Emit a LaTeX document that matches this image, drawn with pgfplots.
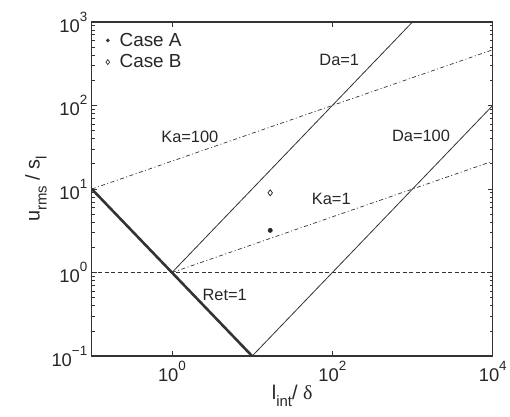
\documentclass[border=0pt]{standalone}
\usepackage{fontspec}
\setmainfont{Liberation Sans}
\newfontfamily\greekserif{Liberation Serif}
\usepackage{pgfplots}
\pgfplotsset{compat=1.18}

% power-of-ten tick label set in the text font
\newcommand{\tp}[1]{10\raisebox{0.6em}{\fontsize{13.5}{13.5}\selectfont #1}}

\begin{document}
\begin{tikzpicture}
\begin{axis}[
  scale only axis,
  width=402bp, height=335bp,
  xmode=log, ymode=log,
  xmin=0.1, xmax=1e4, ymin=0.1, ymax=1e3,
  xtick={1,100,10000},
  xticklabels={\tp{0},\tp{2},\tp{4}},
  ytick={0.1,1,10,100,1000},
  yticklabels={\tp{\textminus 1},\tp{0},\tp{1},\tp{2},\tp{3}},
  xminorticks=false,
  tick align=inside,
  major tick length=5bp, minor tick length=3bp,
  every tick/.style={black!80, line width=0.8bp},
  axis line style={black!80, line width=1.4bp},
  tick label style={font=\fontsize{18.5}{20}\selectfont, text=black!85},
  xticklabel style={yshift=-2bp},
  yticklabel style={xshift=-1bp},
  xlabel={l\raisebox{-0.35em}{\fontsize{15}{15}\selectfont int}/ {\greekserif δ}},
  ylabel={u\raisebox{-0.35em}{\fontsize{15}{15}\selectfont rms} / s\raisebox{-0.35em}{\fontsize{15}{15}\selectfont l}},
  label style={font=\fontsize{20}{22}\selectfont, text=black!85},
  xlabel style={yshift=4bp},
  ylabel style={yshift=-2bp},
  legend style={at={(rel axis cs:0,1)}, anchor=north west, xshift=13bp, yshift=-8bp,
    draw=none, fill=none, font=\fontsize{19}{21}\selectfont, text=black!85,
    row sep=3bp, inner sep=1bp},
  legend cell align=left,
  clip=true,
]
% legend entries
\addlegendimage{only marks, mark=*, mark size=1.7bp, black!80}
\addlegendentry{\hspace{8bp}Case A}
\addlegendimage{only marks, mark=diamond, mark size=2.5bp, black!80, mark options={line width=0.7bp}}
\addlegendentry{\hspace{8bp}Case B}

% Re_t = 1
\addplot[black!80, line width=2.6bp, forget plot] coordinates {(0.1,10) (10,0.1)};
% Da = 1 and Da = 100
\addplot[black!80, line width=0.8bp, forget plot] coordinates {(1,1) (1000,1000)};
\addplot[black!80, line width=0.8bp, forget plot] coordinates {(10,0.1) (10000,100)};
% Ka = 1 and Ka = 100
\addplot[black!80, line width=0.7bp, dash pattern=on 4bp off 2.5bp on 1bp off 2.5bp, forget plot]
  coordinates {(1,1) (10000,21.544)};
\addplot[black!80, line width=0.7bp, dash pattern=on 4bp off 2.5bp on 1bp off 2.5bp, forget plot]
  coordinates {(0.1,10) (10000,464.16)};
% u'/s_l = 1
\addplot[black!80, line width=0.7bp, dash pattern=on 4bp off 2.5bp, forget plot]
  coordinates {(0.1,1) (10000,1)};

% simulation cases
\addplot[only marks, mark=*, mark size=2.2bp, black!85, forget plot] coordinates {(16.8,3.2)};
\addplot[only marks, mark=diamond, mark size=3bp, black!80, mark options={line width=0.8bp}, forget plot]
  coordinates {(16.8,9.0)};

% regime labels
\tikzset{lbl/.style={font=\fontsize{16.5}{18}\selectfont, text=black!85}}
\node[lbl] at (axis cs:122,351) {Da=1};
\node[lbl] at (axis cs:1276,43.5) {Da=100};
\node[lbl] at (axis cs:1.67,42.4) {Ka=100};
\node[lbl] at (axis cs:97,7.7) {Ka=1};
\node[lbl] at (axis cs:4.55,0.535) {Ret=1};
\end{axis}
\path (current axis.south west) ++(-92bp,-61bp);
\path (current axis.north east) ++(16bp,22bp);
\end{tikzpicture}
\end{document}
